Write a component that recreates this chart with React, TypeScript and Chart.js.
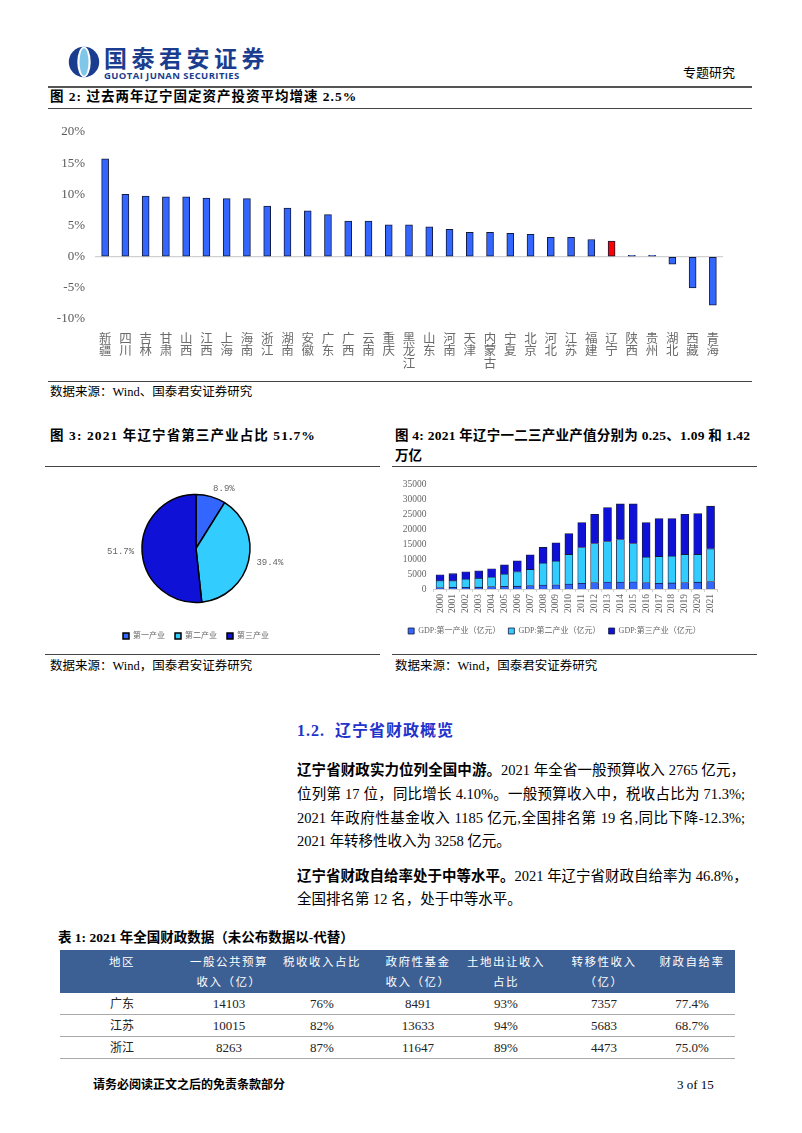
import React, { useEffect, useRef } from 'react';
import { Chart, registerables } from 'chart.js';
Chart.register(...registerables);

// ---------- Figure 2: fixed-asset investment growth by province ----------
const provinces = ['新疆','四川','吉林','甘肃','山西','江西','上海','海南','浙江','湖南','安徽','广东','广西','云南','重庆','黑龙江','山东','河南','天津','内蒙古','宁夏','北京','河北','江苏','福建','辽宁','陕西','贵州','湖北','西藏','青海'];
const investGrowth = [15.7,10.0,9.7,9.6,9.6,9.4,9.3,9.3,8.1,7.8,7.35,6.75,5.7,5.7,5.1,5.1,4.8,4.4,3.9,3.9,3.75,3.6,3.1,3.1,2.75,2.5,0.2,0.2,-1.2,-5.0,-7.8];
const highlightProvince = '辽宁';
const growthMin = -10;
const growthMax = 20;
const growthStep = 5;

// ---------- Figure 3: industry shares ----------
const pieLabels = ['第一产业','第二产业','第三产业'];
const pieShares = [8.9, 39.4, 51.7];

// ---------- Figure 4: GDP by industry ----------
const years = ['2000','2001','2002','2003','2004','2005','2006','2007','2008','2009','2010','2011','2012','2013','2014','2015','2016','2017','2018','2019','2020','2021'];
const primaryGdp = [500,545,590,615,800,880,940,1130,1300,1410,1630,1915,2155,2320,2285,2385,2170,1900,2030,2180,2280,2500];
const secondaryGdp = [2270,2230,2730,2930,3190,4100,4820,5400,7340,7890,9890,11930,13020,13520,14220,12790,8460,8950,8940,9340,9240,10900];
const tertiaryGdp = [1990,2330,2440,2550,2770,3100,3650,4870,5210,6090,6980,8310,9750,11300,11850,13180,11520,12630,12520,13400,13620,14200];
const gdpSeriesNames = ['GDP:第一产业（亿元）','GDP:第二产业（亿元）','GDP:第三产业（亿元）'];
const gdpMax = 35000;
const gdpStep = 5000;

// ---------- Table 1 ----------
const tableHeaderTop = ['地区','一般公共预算','税收收入占比','政府性基金','土地出让收入','转移性收入','财政自给率'];
const tableHeaderBottom = ['','收入（亿）','','收入（亿）','占比','（亿）',''];
const tableRegions = ['广东','江苏','浙江'];
const budgetRevenue = ['14103','10015','8263'];
const taxShare = ['76%','82%','87%'];
const fundRevenue = ['8491','13633','11647'];
const landShare = ['93%','94%','89%'];
const transferRevenue = ['7357','5683','4473'];
const selfSufficiency = ['77.4%','68.7%','75.0%'];

const FONT = "'Liberation Serif', 'Noto Sans CJK SC', serif";
const C_PRIMARY = '#3366FF';
const C_SECOND = '#33CCFF';
const C_THIRD = '#0F12D6';
const BORDER = '#141a3c';

function useChart(ref: any, make: () => any) {
  useEffect(() => {
    const chart = new Chart(ref.current, make());
    return () => chart.destroy();
  }, []);
}

function BarChart() {
  const ref = useRef<HTMLCanvasElement>(null);
  useChart(ref, () => ({
    type: 'bar',
    data: {
      labels: provinces.map((p) => p.split('')),
      datasets: [{
        data: investGrowth,
        backgroundColor: provinces.map((p) => (p === highlightProvince ? '#FF0000' : C_PRIMARY)),
        borderColor: BORDER,
        borderWidth: 1,
        borderSkipped: false,
        barThickness: 7,
      }],
    },
    options: {
      responsive: false,
      animation: false,
      devicePixelRatio: 1,
      layout: { padding: { left: 5, right: 17, top: 20, bottom: 0 } },
      plugins: { legend: { display: false }, tooltip: { enabled: false } },
      scales: {
        x: {
          grid: { display: false },
          border: { display: false },
          ticks: { autoSkip: false, maxRotation: 0, minRotation: 0, color: '#6b6b6b', padding: 6, font: { family: FONT, size: 12.5, lineHeight: 1.0 } },
          afterFit: (s: any) => { s.height = 55; },
        },
        y: {
          min: growthMin, max: growthMax,
          ticks: { stepSize: growthStep, callback: (v: any) => v + '%', color: '#595959', padding: 10, font: { family: FONT, size: 13 } },
          grid: { drawTicks: false, color: (c: any) => (c.tick && c.tick.value === 0 ? '#d0d0d0' : 'rgba(0,0,0,0)'), lineWidth: 1.2 },
          border: { display: false },
          afterFit: (s: any) => { s.width = 50; },
        },
      },
    },
  }));
  return <canvas ref={ref} width={700} height={262} style={{ position: 'absolute', left: 40, top: 112, width: 700, height: 262 }} />;
}

const pieLabelPlugin = {
  id: 'pieLabels',
  afterDatasetsDraw(chart: any) {
    const ctx = chart.ctx;
    const meta = chart.getDatasetMeta(0);
    meta.data.forEach((arc: any, i: number) => {
      const p = arc.getProps(['x', 'y', 'startAngle', 'endAngle', 'outerRadius'], true);
      const mid = (p.startAngle + p.endAngle) / 2;
      const r = p.outerRadius + 8;
      const lx = p.x + Math.cos(mid) * r;
      const ly = p.y + Math.sin(mid) * r;
      ctx.save();
      ctx.font = "9px 'Liberation Mono', monospace";
      ctx.fillStyle = '#666';
      ctx.textAlign = Math.cos(mid) >= 0 ? 'left' : 'right';
      ctx.textBaseline = 'middle';
      ctx.fillText(pieShares[i].toFixed(1) + '%', lx, ly);
      ctx.restore();
    });
  },
};

function PieChart() {
  const ref = useRef<HTMLCanvasElement>(null);
  useChart(ref, () => ({
    type: 'pie',
    data: {
      labels: pieLabels,
      datasets: [{
        data: pieShares,
        backgroundColor: [C_PRIMARY, C_SECOND, C_THIRD],
        borderColor: '#000',
        borderWidth: 1.5,
        radius: 54,
      }],
    },
    options: {
      responsive: false,
      animation: false,
      devicePixelRatio: 1,
      plugins: {
        tooltip: { enabled: false },
        legend: {
          position: 'bottom',
          labels: { boxWidth: 6, boxHeight: 6, padding: 10, color: '#666', font: { family: FONT, size: 8 } },
        },
      },
    },
    plugins: [pieLabelPlugin],
  }));
  return <canvas ref={ref} width={200} height={175} style={{ position: 'absolute', left: 96, top: 475, width: 200, height: 175 }} />;
}

function StackedChart() {
  const ref = useRef<HTMLCanvasElement>(null);
  useChart(ref, () => ({
    type: 'bar',
    data: {
      labels: years,
      datasets: [
        { label: gdpSeriesNames[0], data: primaryGdp, backgroundColor: C_PRIMARY, borderColor: BORDER, borderWidth: 0.8, barThickness: 8 },
        { label: gdpSeriesNames[1], data: secondaryGdp, backgroundColor: C_SECOND, borderColor: BORDER, borderWidth: 0.8, barThickness: 8 },
        { label: gdpSeriesNames[2], data: tertiaryGdp, backgroundColor: C_THIRD, borderColor: BORDER, borderWidth: 0.8, barThickness: 8 },
      ],
    },
    options: {
      responsive: false,
      animation: false,
      devicePixelRatio: 1,
      layout: { padding: { left: 0, right: 20, top: 14, bottom: 0 } },
      plugins: {
        tooltip: { enabled: false },
        legend: {
          position: 'bottom',
          labels: { boxWidth: 6, boxHeight: 6, padding: 8, color: '#666', font: { family: FONT, size: 8 } },
        },
      },
      scales: {
        x: {
          stacked: true,
          grid: { drawOnChartArea: false, drawTicks: true, tickLength: 3, color: '#d0d0d0' },
          border: { display: true, color: '#d0d0d0' },
          ticks: { autoSkip: false, minRotation: 90, maxRotation: 90, color: '#666', padding: 2, font: { family: FONT, size: 9.5 } },
          afterFit: (s: any) => { s.height = 30; },
        },
        y: {
          stacked: true,
          min: 0, max: gdpMax,
          ticks: { stepSize: gdpStep, callback: (v: any) => String(v), color: '#666', padding: 7, font: { family: FONT, size: 9.5 } },
          grid: { display: false, drawTicks: false },
          border: { display: false },
          afterFit: (s: any) => { s.width = 41.6; },
        },
      },
    },
  }));
  return <canvas ref={ref} width={345} height={175} style={{ position: 'absolute', left: 392, top: 470, width: 345, height: 175 }} />;
}

function T(props: any) {
  const { x, y, size = 13, bold = false, color = '#000', children, style = {} } = props;
  return (
    <div style={{ position: 'absolute', left: x, top: y - size * 0.62, fontSize: size, lineHeight: `${size * 1.24}px`, fontWeight: bold ? 700 : 400, color, whiteSpace: 'nowrap', ...style }}>
      {children}
    </div>
  );
}

function HLine(props: any) {
  const { x1, x2, y, color = '#333', w = 1 } = props;
  return <div style={{ position: 'absolute', left: x1, top: y, width: x2 - x1, height: w, background: color }} />;
}

function JLine(props: any) {
  const { y, children, last = false } = props;
  return (
    <div style={{ position: 'absolute', left: 297, top: y - 10, width: 448, fontSize: 14.5, lineHeight: '20px', textAlign: 'justify', textAlignLast: last ? 'left' : 'justify', whiteSpace: 'nowrap' } as any}>
      {children}
    </div>
  );
}

const colCenters = [122, 229, 322, 418, 506, 604, 692];

export default function App() {
  const rows = tableRegions.map((r, i) => [r, budgetRevenue[i], taxShare[i], fundRevenue[i], landShare[i], transferRevenue[i], selfSufficiency[i]]);
  return (
    <div style={{ position: 'absolute', left: 0, top: 0, width: 802, height: 1133, overflow: 'hidden', background: '#fff', fontFamily: FONT, color: '#000' }}>
      {/* header logo */}
      <svg style={{ position: 'absolute', left: 67, top: 45 }} width={34} height={34} viewBox="0 0 38 38">
        <circle cx={19} cy={19} r={17} fill="#1B3D8F" />
        <ellipse cx={19} cy={19} rx={7.5} ry={17} fill="#fff" />
        <ellipse cx={19} cy={19} rx={5} ry={15.5} fill="#7FC6E8" />
      </svg>
      <div style={{ position: 'absolute', left: 104, top: 44, fontSize: 23, lineHeight: '27px', fontWeight: 700, color: '#1B3D8F', fontFamily: "'Noto Sans CJK SC', sans-serif", letterSpacing: 4.5 }}>国泰君安证券</div>
      <div style={{ position: 'absolute', left: 104, top: 71, fontSize: 9.5, lineHeight: '10px', fontWeight: 700, color: '#1B3D8F', fontFamily: "'Open Sans', 'DejaVu Sans', sans-serif", letterSpacing: 0.4 }}>GUOTAI JUNAN SECURITIES</div>
      <T x={683} y={73} size={13}>专题研究</T>
      <HLine x1={48} x2={752} y={86} color="#555" w={1.5} />

      {/* Figure 2 */}
      <T x={50} y={97} size={13.5} bold style={{ letterSpacing: 1 }}>图 2: 过去两年辽宁固定资产投资平均增速 2.5%</T>
      <HLine x1={48} x2={752} y={108} color="#444" />
      <BarChart />
      <HLine x1={48} x2={752} y={381} color="#444" />
      <T x={50} y={393} size={12.5}>数据来源：Wind、国泰君安证券研究</T>

      {/* Figure 3 & 4 titles */}
      <T x={50} y={436} size={13.5} bold style={{ letterSpacing: 1.1 }}>图 3: 2021 年辽宁省第三产业占比 51.7%</T>
      <T x={395} y={436} size={13.5} bold style={{ letterSpacing: 0.25 }}>图 4: 2021 年辽宁一二三产业产值分别为 0.25、1.09 和 1.42</T>
      <T x={395} y={456} size={13.5} bold>万亿</T>
      <HLine x1={45} x2={380} y={466} color="#444" />
      <HLine x1={392} x2={757} y={466} color="#444" />
      <PieChart />
      <StackedChart />
      <HLine x1={45} x2={380} y={654} color="#444" />
      <HLine x1={392} x2={757} y={654} color="#444" />
      <T x={50} y={667} size={12.5}>数据来源：Wind，国泰君安证券研究</T>
      <T x={395} y={667} size={12.5}>数据来源：Wind，国泰君安证券研究</T>

      {/* Section 1.2 */}
      <T x={297} y={731} size={16} bold color="#2233CC" style={{ letterSpacing: 1 }}>1.2.&nbsp;&nbsp;辽宁省财政概览</T>
      <JLine y={770}><b>辽宁省财政实力位列全国中游。</b>2021 年全省一般预算收入 2765 亿元，</JLine>
      <JLine y={794}>位列第 17 位，同比增长 4.10%。一般预算收入中，税收占比为 71.3%;</JLine>
      <JLine y={818}>2021 年政府性基金收入 1185 亿元,全国排名第 19 名,同比下降-12.3%;</JLine>
      <JLine y={841} last>2021 年转移性收入为 3258 亿元。</JLine>
      <JLine y={876}><b>辽宁省财政自给率处于中等水平。</b>2021 年辽宁省财政自给率为 46.8%，</JLine>
      <JLine y={899} last>全国排名第 12 名，处于中等水平。</JLine>

      {/* Table 1 */}
      <T x={58} y={938} size={13.5} bold>表 1: 2021 年全国财政数据（未公布数据以-代替）</T>
      <div style={{ position: 'absolute', left: 60, top: 950, width: 675, height: 43, background: '#3D6094' }} />
      {tableHeaderTop.map((h, i) => (
        <div key={'h1' + i} style={{ position: 'absolute', left: colCenters[i] - 60, width: 120, top: 954, textAlign: 'center', fontSize: 11.5, lineHeight: '16px', color: '#fff', letterSpacing: 1.5 }}>{h}</div>
      ))}
      {tableHeaderBottom.map((h, i) => (
        <div key={'h2' + i} style={{ position: 'absolute', left: colCenters[i] - 60, width: 120, top: 974, textAlign: 'center', fontSize: 11.5, lineHeight: '16px', color: '#fff', letterSpacing: 1.5 }}>{h}</div>
      ))}
      {rows.map((row, r) => (
        <React.Fragment key={'r' + r}>
          {row.map((cell, c) => (
            <div key={c} style={{ position: 'absolute', left: colCenters[c] - 60, width: 120, top: 996 + r * 22, textAlign: 'center', fontSize: c === 0 ? 12 : 13, lineHeight: '16px', color: '#222' }}>{cell}</div>
          ))}
          <HLine x1={60} x2={735} y={1014 + r * 22} color="#aaa" />
        </React.Fragment>
      ))}

      {/* footer */}
      <T x={93} y={1085} size={12} bold>请务必阅读正文之后的免责条款部分</T>
      <T x={677} y={1085} size={13}>3 of 15</T>
    </div>
  );
}
